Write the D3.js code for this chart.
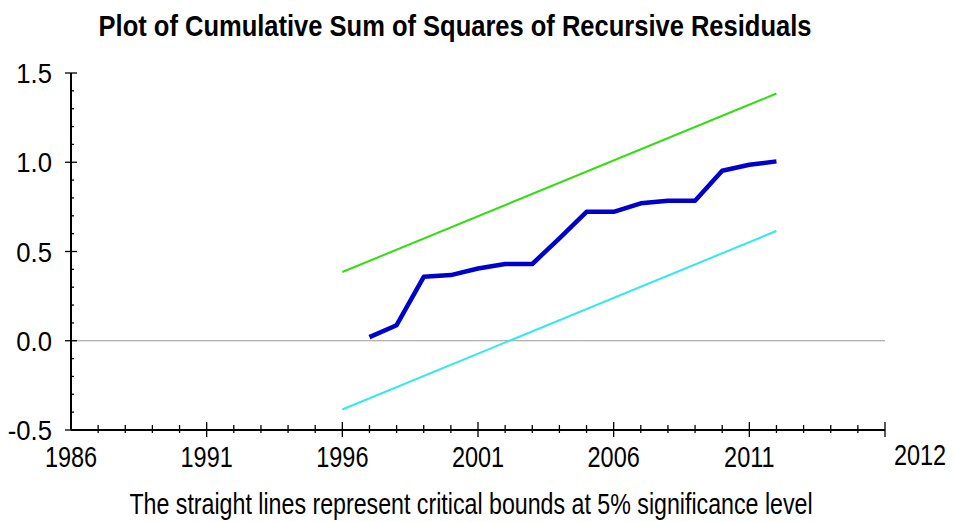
<!DOCTYPE html>
<html>
<head>
<meta charset="utf-8">
<script src="https://cdn.jsdelivr.net/npm/d3@7"></script>
<style>
  body { margin: 0; background: #fff; }
  text { font-family: "Liberation Sans", Arial, sans-serif; fill: #000; }
</style>
</head>
<body>
<div id="chart"></div>
<script>
// years and cusum of squares values
var years = [1997, 1998, 1999, 2000, 2001, 2002, 2003, 2004, 2005, 2006, 2007, 2008, 2009, 2010, 2011, 2012];
var cusumsq = [0.02, 0.087, 0.358, 0.368, 0.405, 0.43, 0.43, 0.574, 0.722, 0.722, 0.77, 0.784, 0.784, 0.952, 0.986, 1.005];
// critical bounds (straight lines)
var boundYears = [1996, 2012];
var upperBound = [0.385, 1.385];
var lowerBound = [-0.385, 0.615];
var xTickLabels = [1986, 1991, 1996, 2001, 2006, 2011];
var yTickLabels = [-0.5, 0.0, 0.5, 1.0, 1.5];
var lastYearLabel = "2012";

var W = 955, H = 522;
var svg = d3.select("#chart").append("svg").attr("width", W).attr("height", H);

var x = d3.scaleLinear().domain([1986, 2016]).range([71, 885]);
var y = d3.scaleLinear().domain([-0.5, 1.5]).range([430, 73]);

// narrow text: squeeze Liberation Sans horizontally
function narrowText(g, tx, ty, txt, size, sx, anchor, weight) {
    g.append("g")
        .attr("transform", "translate(" + tx + "," + ty + ") scale(" + sx + ",1)")
        .append("text")
        .attr("text-anchor", anchor)
        .style("font-size", size + "px")
        .style("font-weight", weight || "normal")
        .text(txt);
}

// zero line
svg.append("line")
    .attr("x1", x(1986)).attr("x2", x(2016))
    .attr("y1", y(0)).attr("y2", y(0))
    .attr("stroke", "#9a9a9a").attr("stroke-width", 1.2);

// y axis
var gy = svg.append("g");
gy.append("line").attr("x1", x(1986)).attr("x2", x(1986)).attr("y1", y(1.5)).attr("y2", y(-0.5))
    .attr("stroke", "#000").attr("stroke-width", 2);
d3.range(-5, 16).forEach(function (k) {
    var v = k / 10;
    var major = k % 5 === 0;
    gy.append("line")
        .attr("x1", major ? x(1986) - 6 : x(1986)).attr("x2", x(1986) + (major ? 6 : 3))
        .attr("y1", y(v)).attr("y2", y(v))
        .attr("stroke", "#000").attr("stroke-width", 1.3);
});
yTickLabels.forEach(function (d) {
    var s = d.toFixed(1); // plain hyphen for negatives
    narrowText(gy, 52, y(d) + 10, s, 28.5, 0.9, "end");
});

// x axis
var gx = svg.append("g");
gx.append("line").attr("x1", x(1986)).attr("x2", x(2016)).attr("y1", y(-0.5)).attr("y2", y(-0.5))
    .attr("stroke", "#000").attr("stroke-width", 2);
d3.range(1987, 2017).forEach(function (yr) {
    var major = (yr - 1986) % 5 === 0 || yr === 2016;
    gx.append("line")
        .attr("x1", x(yr)).attr("x2", x(yr))
        .attr("y1", y(-0.5) - (major ? 8 : 5)).attr("y2", y(-0.5) + (major ? 7 : 3))
        .attr("stroke", "#000").attr("stroke-width", 1.3);
});
xTickLabels.forEach(function (d) {
    narrowText(gx, x(d), 467, d, 29, 0.81, "middle");
});
narrowText(gx, 920, 465, lastYearLabel, 29, 0.81, "middle");

// bounds
var line = d3.line().x(function (d) { return x(d[0]); }).y(function (d) { return y(d[1]); });
svg.append("path").datum(d3.zip(boundYears, upperBound))
    .attr("d", line).attr("fill", "none").attr("stroke", "#33dd11").attr("stroke-width", 2);
svg.append("path").datum(d3.zip(boundYears, lowerBound))
    .attr("d", line).attr("fill", "none").attr("stroke", "#33e8ee").attr("stroke-width", 2);

// cusum of squares
svg.append("path").datum(d3.zip(years, cusumsq))
    .attr("d", line).attr("fill", "none").attr("stroke", "#0000cc").attr("stroke-width", 4.5)
    .attr("stroke-linejoin", "round");

// title and note
narrowText(svg, 455, 36, "Plot of Cumulative Sum of Squares of Recursive Residuals", 29, 0.88, "middle", "bold");
narrowText(svg, 471, 514, "The straight lines represent critical bounds at 5% significance level", 29, 0.8, "middle");
</script>
</body>
</html>
